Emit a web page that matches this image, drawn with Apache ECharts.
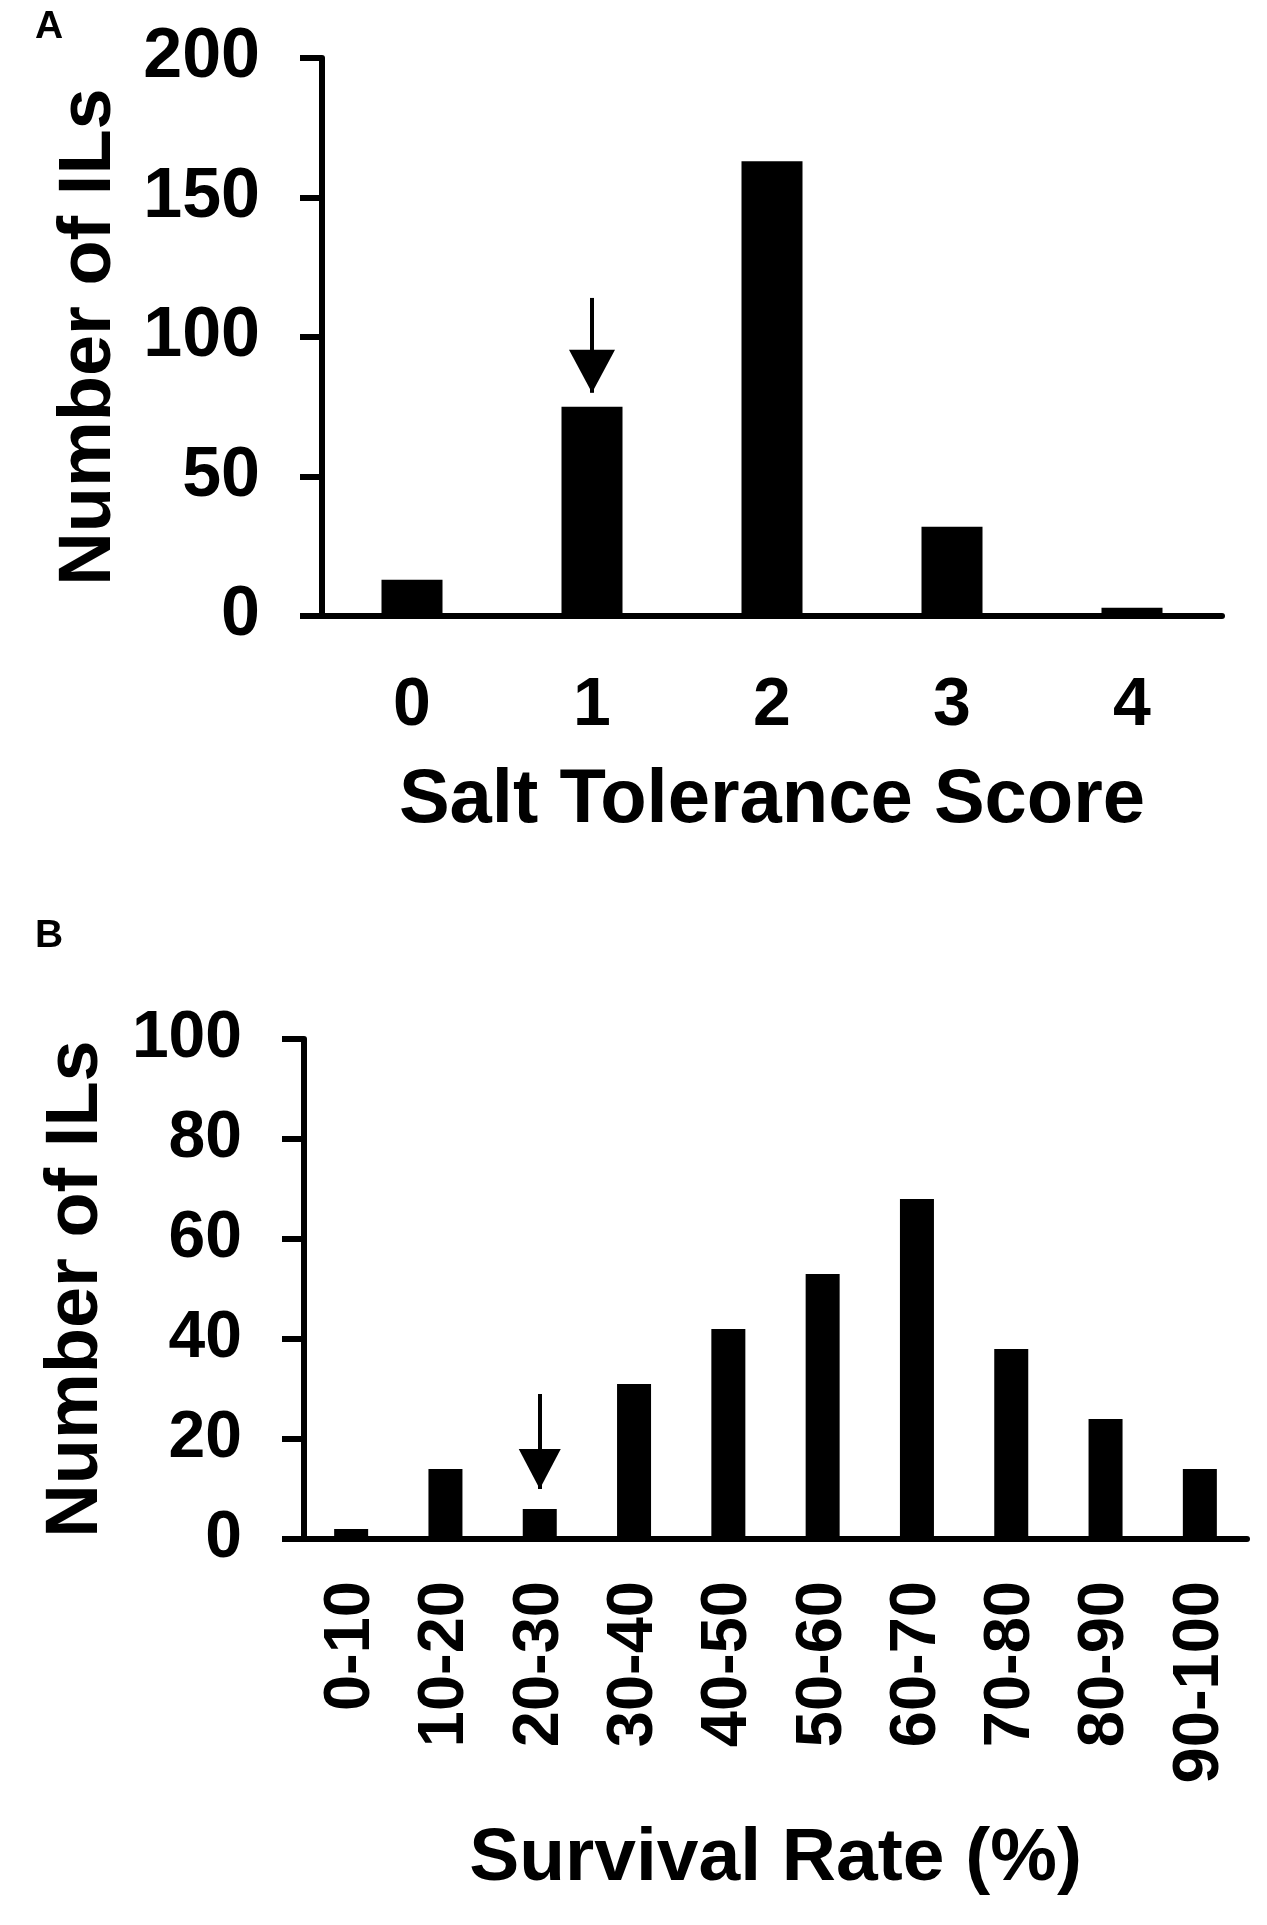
<!DOCTYPE html>
<html>
<head>
<meta charset="utf-8">
<title>Salt tolerance of ILs</title>
<script src="https://cdn.jsdelivr.net/npm/echarts@6/dist/echarts.min.js"></script>
<style>
  html, body { margin: 0; padding: 0; background: #fff; }
  #chart { width: 1267px; height: 1925px; }
</style>
</head>
<body>
<div id="chart"></div>
<script>
// Panel A: salt tolerance score distribution
const scoreCats = ['0', '1', '2', '3', '4'];
const scoreCounts = [13, 75, 163, 32, 3];
const scoreTicks = [0, 50, 100, 150, 200];
const scoreArrow = ['1', 114, 80]; // category, tail value, tip value

// Panel B: survival rate distribution
const rateCats = ['0-10', '10-20', '20-30', '30-40', '40-50', '50-60', '60-70', '70-80', '80-90', '90-100'];
const rateCounts = [2, 14, 6, 31, 42, 53, 68, 38, 24, 14];
const rateTicks = [0, 20, 40, 60, 80, 100];
const rateArrow = ['20-30', 29, 10];

const FONT = "'Liberation Sans', Arial, sans-serif";
const black = '#000';

const chart = echarts.init(document.getElementById('chart'), null, { renderer: 'canvas' });

function yAxisFor(gridIndex, ticks, labelSize, nameGap) {
  return {
    type: 'value',
    gridIndex: gridIndex,
    min: ticks[0],
    max: ticks[ticks.length - 1],
    interval: ticks[1] - ticks[0],
    name: 'Number of ILs',
    nameLocation: 'middle',
    nameGap: nameGap,
    nameTextStyle: { fontFamily: FONT, fontWeight: 'bold', fontSize: 74, color: black },
    axisLine: { show: true, lineStyle: { color: black, width: 6 } },
    axisTick: { show: true, length: 22, lineStyle: { color: black, width: 6 } },
    axisLabel: { fontFamily: FONT, fontWeight: 'bold', fontSize: labelSize, color: black, margin: 62 },
    splitLine: { show: false }
  };
}

// arrow pointing down at the marked bar; head shifted back so its tip sits on the end value
function arrowLine(arrow, head) {
  return {
    silent: true,
    symbol: ['none', 'triangle'],
    symbolSize: head,
    symbolOffset: [0, [0, head[1] / 2]],
    label: { show: false },
    lineStyle: { color: black, width: 4, type: 'solid' },
    itemStyle: { color: black },
    data: [[{ coord: [arrow[0], arrow[1]] }, { coord: [arrow[0], arrow[2]] }]]
  };
}

const option = {
  animation: false,
  backgroundColor: '#fff',
  graphic: [
    { type: 'text', left: 35, top: 8, style: { text: 'A', fontFamily: FONT, fontWeight: 'bold', fontSize: 39, fill: black } },
    { type: 'text', left: 35, top: 917, style: { text: 'B', fontFamily: FONT, fontWeight: 'bold', fontSize: 39, fill: black } }
  ],
  grid: [
    { left: 322, right: 45, top: 58, height: 558 },
    { left: 304, right: 20, top: 1039, height: 500 }
  ],
  xAxis: [
    {
      type: 'category',
      gridIndex: 0,
      data: scoreCats,
      name: 'Salt Tolerance Score',
      nameLocation: 'middle',
      nameGap: 147,
      nameTextStyle: { fontFamily: FONT, fontWeight: 'bold', fontSize: 76, color: black },
      axisLine: { lineStyle: { color: black, width: 6 } },
      axisTick: { length: 22, lineStyle: { color: black, width: 6 } },
      axisLabel: { fontFamily: FONT, fontWeight: 'bold', fontSize: 68, color: black, margin: 56 }
    },
    {
      type: 'category',
      gridIndex: 1,
      data: rateCats,
      name: 'Survival Rate (%)',
      nameLocation: 'middle',
      nameGap: 283,
      nameTextStyle: { fontFamily: FONT, fontWeight: 'bold', fontSize: 75, color: black },
      axisLine: { lineStyle: { color: black, width: 6 } },
      axisTick: { length: 18, lineStyle: { color: black, width: 6 } },
      axisLabel: { fontFamily: FONT, fontWeight: 'bold', fontSize: 65, color: black, rotate: 90, margin: 42, interval: 0 }
    }
  ],
  yAxis: [
    yAxisFor(0, scoreTicks, 70, 195),
    yAxisFor(1, rateTicks, 66, 190)
  ],
  series: [
    {
      type: 'bar',
      xAxisIndex: 0,
      yAxisIndex: 0,
      data: scoreCounts,
      barWidth: 61,
      itemStyle: { color: black },
      markLine: arrowLine(scoreArrow, [46, 43])
    },
    {
      type: 'bar',
      xAxisIndex: 1,
      yAxisIndex: 1,
      data: rateCounts,
      barWidth: 34,
      itemStyle: { color: black },
      markLine: arrowLine(rateArrow, [42, 40])
    }
  ]
};

chart.setOption(option);
</script>
</body>
</html>
